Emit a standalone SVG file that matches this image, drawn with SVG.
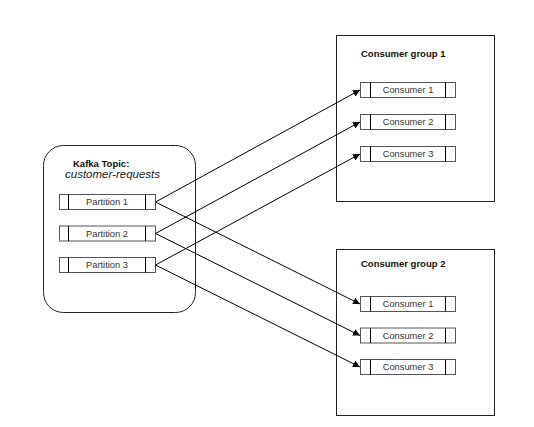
<svg xmlns="http://www.w3.org/2000/svg" width="534" height="427" viewBox="0 0 534 427">
<defs>
<marker id="arr" viewBox="0 0 10 10" refX="10" refY="5" markerWidth="7" markerHeight="7" markerUnits="userSpaceOnUse" orient="auto">
<path d="M0,0 L10,5 L0,10 z" fill="#000"/>
</marker>
<style>
.grp{fill:#fff;stroke:#222;stroke-width:1}
.box{fill:#fff;stroke:#555;stroke-width:1}
.div{stroke:#000;stroke-width:1}
.lbl{font-family:"Liberation Sans",Arial,sans-serif;font-size:9.3px;fill:#333;text-anchor:middle}
.ttl{font-family:"Liberation Sans",Arial,sans-serif;font-size:9.5px;font-weight:bold;fill:#111}
.it{font-family:"Liberation Sans",Arial,sans-serif;font-size:11.5px;font-style:italic;fill:#222}
.edge{fill:none;stroke:#000;stroke-width:1;marker-end:url(#arr)}
</style>
</defs>
<rect width="534" height="427" fill="#fff"/>
<g id="topic">
<rect class="grp" x="43.5" y="145.5" width="152" height="167" rx="20" ry="20"/>
<text class="ttl" x="73" y="167">Kafka Topic:</text>
<text class="it" x="65" y="178">customer-requests</text>
</g>
<g id="partition1">
<rect class="box" x="59.5" y="194.5" width="96" height="15"/>
<line class="div" x1="68.5" y1="194.5" x2="68.5" y2="209.5"/><line class="div" x1="145.5" y1="194.5" x2="145.5" y2="209.5"/>
<text class="lbl" x="107" y="205.3">Partition 1</text>
</g>
<g id="partition2">
<rect class="box" x="59.5" y="226" width="96" height="15"/>
<line class="div" x1="68.5" y1="226" x2="68.5" y2="241"/><line class="div" x1="145.5" y1="226" x2="145.5" y2="241"/>
<text class="lbl" x="107" y="236.8">Partition 2</text>
</g>
<g id="partition3">
<rect class="box" x="59.5" y="257.5" width="96" height="15"/>
<line class="div" x1="68.5" y1="257.5" x2="68.5" y2="272.5"/><line class="div" x1="145.5" y1="257.5" x2="145.5" y2="272.5"/>
<text class="lbl" x="107" y="268.3">Partition 3</text>
</g>
<g id="group1">
<rect class="grp" x="336.5" y="35.5" width="158" height="166"/>
<text class="ttl" x="361" y="57">Consumer group 1</text>
</g>
<g id="g1c1">
<rect class="box" x="360.5" y="82.5" width="95" height="15"/>
<line class="div" x1="370.5" y1="82.5" x2="370.5" y2="97.5"/><line class="div" x1="445.5" y1="82.5" x2="445.5" y2="97.5"/>
<text class="lbl" x="408" y="93.3">Consumer 1</text>
</g>
<g id="g1c2">
<rect class="box" x="360.5" y="114.5" width="95" height="15"/>
<line class="div" x1="370.5" y1="114.5" x2="370.5" y2="129.5"/><line class="div" x1="445.5" y1="114.5" x2="445.5" y2="129.5"/>
<text class="lbl" x="408" y="125.3">Consumer 2</text>
</g>
<g id="g1c3">
<rect class="box" x="360.5" y="146.5" width="95" height="15"/>
<line class="div" x1="370.5" y1="146.5" x2="370.5" y2="161.5"/><line class="div" x1="445.5" y1="146.5" x2="445.5" y2="161.5"/>
<text class="lbl" x="408" y="157.3">Consumer 3</text>
</g>
<g id="group2">
<rect class="grp" x="336.5" y="249.5" width="158" height="166"/>
<text class="ttl" x="361" y="267">Consumer group 2</text>
</g>
<g id="g2c1">
<rect class="box" x="360.5" y="296.5" width="95" height="15"/>
<line class="div" x1="370.5" y1="296.5" x2="370.5" y2="311.5"/><line class="div" x1="445.5" y1="296.5" x2="445.5" y2="311.5"/>
<text class="lbl" x="408" y="307.3">Consumer 1</text>
</g>
<g id="g2c2">
<rect class="box" x="360.5" y="328" width="95" height="15"/>
<line class="div" x1="370.5" y1="328" x2="370.5" y2="343"/><line class="div" x1="445.5" y1="328" x2="445.5" y2="343"/>
<text class="lbl" x="408" y="338.8">Consumer 2</text>
</g>
<g id="g2c3">
<rect class="box" x="360.5" y="359.5" width="95" height="15"/>
<line class="div" x1="370.5" y1="359.5" x2="370.5" y2="374.5"/><line class="div" x1="445.5" y1="359.5" x2="445.5" y2="374.5"/>
<text class="lbl" x="408" y="370.3">Consumer 3</text>
</g>
<g id="connectors">
<line class="edge" x1="155.5" y1="202" x2="360" y2="90"/>
<line class="edge" x1="155.5" y1="233.5" x2="360" y2="122"/>
<line class="edge" x1="155.5" y1="265" x2="360" y2="154"/>
<line class="edge" x1="155.5" y1="202" x2="360" y2="304"/>
<line class="edge" x1="155.5" y1="233.5" x2="360" y2="335.5"/>
<line class="edge" x1="155.5" y1="265" x2="360" y2="367"/>
</g>
</svg>
